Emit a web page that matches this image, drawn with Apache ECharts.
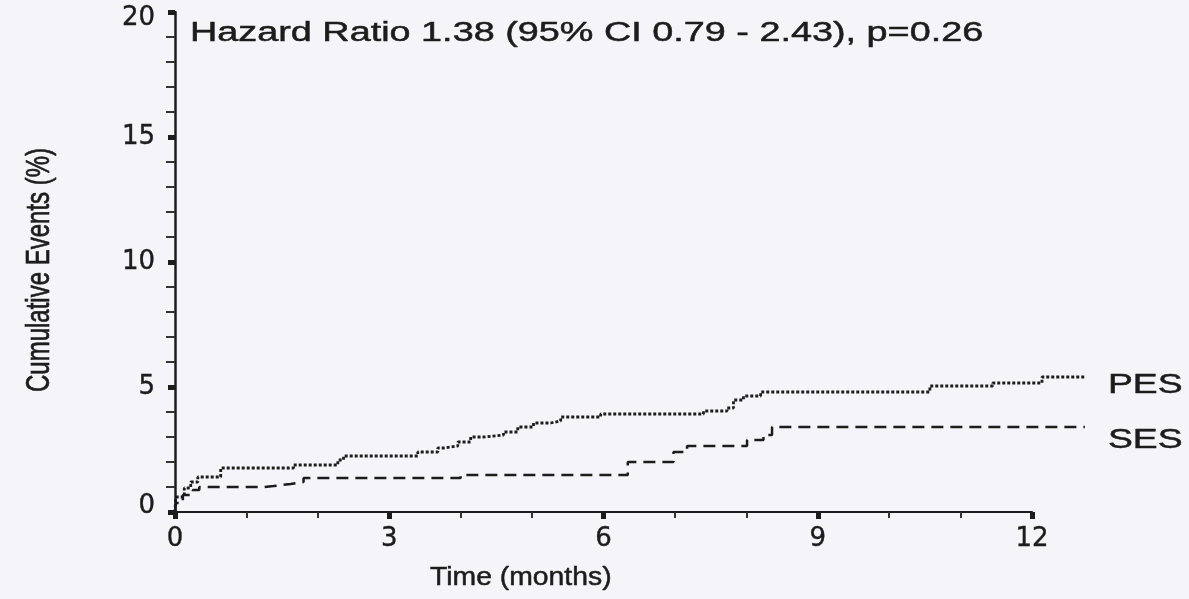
<!DOCTYPE html>
<html>
<head>
<meta charset="utf-8">
<script src="https://cdn.jsdelivr.net/npm/echarts@6/dist/echarts.min.js"></script>
<style>
html,body{margin:0;padding:0;background:#f5f5f9;}
#chart{width:1189px;height:599px;}
</style>
</head>
<body>
<div id="chart"></div>
<script>
// ---- data ----
const seriesNames = ['PES', 'SES'];
const pesTime  = [0, 0.01, 0.13, 0.22, 0.32, 0.64, 1.66, 2.28, 2.36, 3.40, 3.68, 3.76, 3.96, 4.14, 4.32, 4.60, 4.80, 5.02, 5.26, 5.40, 5.96, 7.40, 7.73, 7.82, 7.96, 8.20, 10.57, 11.45, 12.14, 12.74];
const pesValue = [0, 0.60, 0.96, 1.20, 1.40, 1.76, 1.88, 2.08, 2.24, 2.40, 2.56, 2.64, 2.80, 3.00, 3.08, 3.20, 3.40, 3.56, 3.64, 3.80, 3.92, 4.04, 4.16, 4.48, 4.64, 4.80, 5.04, 5.16, 5.40, 5.40];
const sesTime  = [0, 0.01, 0.11, 0.25, 0.34, 1.24, 1.38, 1.62, 1.80, 4.00, 6.34, 6.98, 7.17, 8.01, 8.24, 8.36, 12.74];
const sesValue = [0, 0.36, 0.68, 0.88, 1.00, 1.04, 1.12, 1.20, 1.36, 1.48, 2.00, 2.40, 2.64, 2.88, 3.08, 3.40, 3.40];
const xTicks = [0, 3, 6, 9, 12];
const yTicks = [0, 5, 10, 15, 20];
const annotation = 'Hazard Ratio 1.38 (95% CI 0.79 - 2.43), p=0.26';
const xTitle = 'Time (months)';
const yTitle = 'Cumulative Events (%)';

const toPairs = (t, v) => t.map((x, i) => [x, v[i]]);
const FONT = 'Liberation Sans';
const INK = '#1c1c1c';

// layout: the axes frame (0..12 months) and a wider data frame (0..13) sharing the same scale,
// so the curves can run past the 12-month tick as in the reference
const L = 175, T = 12, W = 857, H = 500;
const xMaxAxis = xTicks[xTicks.length - 1];
const xMaxData = 13;
const yMin = yTicks[0];
const yMax = yTicks[yTicks.length - 1];

const txt = (text, x, y, size, extra) => Object.assign({
  type: 'text', x: x, y: y, silent: true,
  style: {text: text, font: size + 'px "Liberation Sans"', fill: INK,
          stroke: INK, lineWidth: 0.5, align: 'left', verticalAlign: 'middle'}
}, extra || {});

const labelRich = {fontSize: 26, color: INK, fontFamily: 'DejaVu Sans', textBorderColor: INK, textBorderWidth: 0.4};

const chart = echarts.init(document.getElementById('chart'), null, {renderer: 'canvas'});
chart.setOption({
  backgroundColor: '#f5f5f9',
  animation: false,
  textStyle: {fontFamily: FONT, color: INK},
  graphic: [
    txt(annotation, 190, 34, 27, {scaleX: 1.4}),
    txt(xTitle, 430, 578, 26, {scaleX: 1.09}),
    (function () {
      const t = txt(yTitle, 40, 270, 24, {rotation: Math.PI / 2, scaleY: 1.35});
      t.style.align = 'center';
      return t;
    })(),
    txt(seriesNames[0], 1108, 386, 27, {scaleX: 1.38}),
    txt(seriesNames[1], 1108, 441, 27, {scaleX: 1.38})
  ],
  grid: [
    {left: L, top: T, width: W * xMaxData / xMaxAxis, height: H, containLabel: false},
    {left: L, top: T, width: W, height: H, containLabel: false}
  ],
  xAxis: [
    {gridIndex: 0, type: 'value', min: 0, max: xMaxData, show: false},
    {
      gridIndex: 1, type: 'value', min: xTicks[0], max: xMaxAxis, interval: 3,
      axisLine: {show: true, onZero: false, lineStyle: {color: INK, width: 2.2}},
      axisTick: {show: true, length: 7, lineStyle: {color: INK, width: 5}},
      minorTick: {show: true, splitNumber: 3, length: 6, lineStyle: {color: '#333', width: 2}},
      axisLabel: Object.assign({margin: 14}, labelRich),
      splitLine: {show: false}
    }
  ],
  yAxis: [
    {gridIndex: 0, type: 'value', min: yMin, max: yMax, show: false},
    {
      gridIndex: 1, type: 'value', min: yMin, max: yMax, interval: 5,
      axisLine: {show: true, lineStyle: {color: INK, width: 2.5}},
      axisTick: {show: true, length: 7, lineStyle: {color: INK, width: 5}},
      minorTick: {show: true, splitNumber: 5, length: 9, lineStyle: {color: '#333', width: 2}},
      axisLabel: Object.assign({
        margin: 20,
        formatter: v => v === yMax ? '{t|' + v + '}' : (v === yMin ? '{b|' + v + '}' : String(v)),
        rich: {
          t: Object.assign({padding: [12, 0, 0, 0]}, labelRich),
          b: Object.assign({padding: [0, 0, 12, 0]}, labelRich)
        }
      }, labelRich),
      splitLine: {show: false}
    }
  ],
  series: [
    {
      name: seriesNames[0], type: 'line', xAxisIndex: 0, yAxisIndex: 0,
      step: 'end', symbol: 'none',
      data: toPairs(pesTime, pesValue),
      lineStyle: {color: INK, width: 2.8, type: [3, 2]}
    },
    {
      name: seriesNames[1], type: 'line', xAxisIndex: 0, yAxisIndex: 0,
      step: 'end', symbol: 'none',
      data: toPairs(sesTime, sesValue),
      lineStyle: {color: INK, width: 2.5, type: [12, 7]}
    }
  ]
});
</script>
</body>
</html>
